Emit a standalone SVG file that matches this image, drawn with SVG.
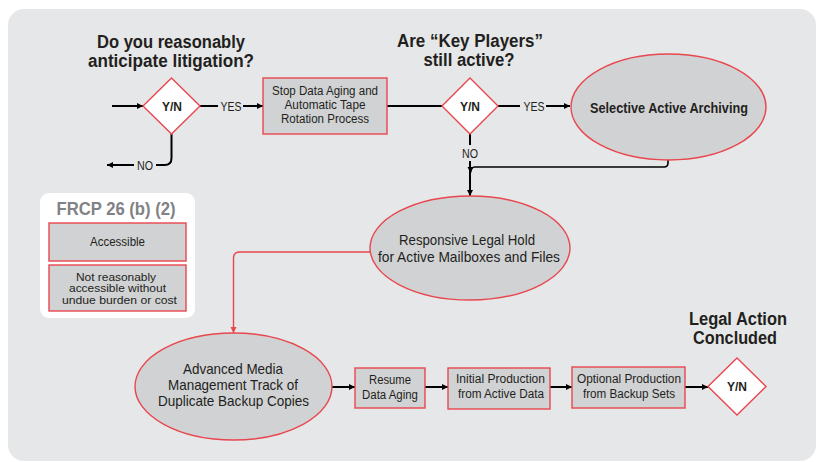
<svg xmlns="http://www.w3.org/2000/svg" width="817" height="462" viewBox="0 0 817 462">
<style>
text{font-family:"Liberation Sans",Arial,sans-serif;fill:#231f20;text-anchor:middle}
.t{font-size:17.5px;font-weight:bold}
.b{font-size:12.5px}
.e{font-size:14.5px}
.yn{font-size:12px;font-weight:bold}
.lb{font-size:12px}
.sm{font-size:11px}
.box{fill:#d1d2d4;stroke:#e8474f;stroke-width:1.4}
.dia{fill:#ffffff;stroke:#e8474f;stroke-width:1.4}
.ln{fill:none;stroke:#000;stroke-width:2}
.rl{fill:none;stroke:#e8474f;stroke-width:1.4}
</style>
<defs>
<marker id="ah" markerUnits="userSpaceOnUse" markerWidth="7" markerHeight="7" refX="6" refY="3.5" orient="auto"><path d="M0,0.5 L6,3.5 L0,6.5 z" fill="#000"/></marker>
<marker id="ahr" markerUnits="userSpaceOnUse" markerWidth="7" markerHeight="7" refX="6" refY="3.5" orient="auto"><path d="M0,0.5 L6,3.5 L0,6.5 z" fill="#e8474f"/></marker>
</defs>
<rect x="8" y="9" width="808" height="452" rx="16" fill="#e6e7e8"/>

<g id="titles">
<text class="t" x="171" y="48" textLength="148" lengthAdjust="spacingAndGlyphs">Do you reasonably</text>
<text class="t" x="171" y="67" textLength="166" lengthAdjust="spacingAndGlyphs">anticipate litigation?</text>
<text class="t" x="470" y="47" textLength="146" lengthAdjust="spacingAndGlyphs">Are “Key Players”</text>
<text class="t" x="469" y="66" textLength="91" lengthAdjust="spacingAndGlyphs">still active?</text>
<text class="t" x="738" y="325" textLength="98" lengthAdjust="spacingAndGlyphs">Legal Action</text>
<text class="t" x="735" y="344" textLength="84" lengthAdjust="spacingAndGlyphs">Concluded</text>
</g>

<g id="connectors">
<line class="ln" x1="112" y1="106" x2="143" y2="106" marker-end="url(#ah)"/>
<path class="ln" d="M171.5,134 V158 Q171.5,165 164.5,165 H156"/>
<line class="ln" x1="134" y1="165" x2="107" y2="165" marker-end="url(#ah)"/>
<line class="ln" x1="200" y1="106" x2="218" y2="106"/>
<line class="ln" x1="243" y1="106" x2="263" y2="106" marker-end="url(#ah)"/>
<line class="ln" x1="387" y1="106" x2="442" y2="106"/>
<line class="ln" x1="498" y1="106" x2="520" y2="106"/>
<line class="ln" x1="546" y1="106" x2="570" y2="106" marker-end="url(#ah)"/>
<line class="ln" x1="470" y1="134" x2="470" y2="145"/>
<line class="ln" x1="470" y1="161" x2="470" y2="196" marker-end="url(#ah)"/>
<path class="ln" d="M668,160 V163 Q668,167 664,167 H475 Q470.5,167 470.5,173" marker-end="url(#ah)" style="stroke-width:1.6"/>
<path class="rl" d="M370,252 H240 Q233.5,252 233.5,258 V333" marker-end="url(#ahr)"/>
<line class="ln" x1="332" y1="387" x2="355" y2="387" marker-end="url(#ah)"/>
<line class="ln" x1="425" y1="387" x2="448" y2="387" marker-end="url(#ah)"/>
<line class="ln" x1="550" y1="387" x2="572" y2="387" marker-end="url(#ah)"/>
<line class="ln" x1="685" y1="387" x2="708" y2="387" marker-end="url(#ah)"/>
<text class="lb" x="231" y="110.5" textLength="21" lengthAdjust="spacingAndGlyphs">YES</text>
<text class="lb" x="145" y="169.5" textLength="16" lengthAdjust="spacingAndGlyphs">NO</text>
<text class="lb" x="534" y="110.5" textLength="21" lengthAdjust="spacingAndGlyphs">YES</text>
<text class="lb" x="470" y="157.5" textLength="16" lengthAdjust="spacingAndGlyphs">NO</text>
</g>

<g id="decision1">
<path class="dia" d="M171.5,78 L200,106 L171.5,134 L143,106 z"/>
<text class="yn" x="172" y="110.5" textLength="20" lengthAdjust="spacingAndGlyphs">Y/N</text>
</g>

<g id="stop-aging">
<rect class="box" x="263" y="78" width="124" height="56"/>
<text class="b" x="325" y="95" textLength="106" lengthAdjust="spacingAndGlyphs">Stop Data Aging and</text>
<text class="b" x="325" y="109" textLength="81" lengthAdjust="spacingAndGlyphs">Automatic Tape</text>
<text class="b" x="325" y="123" textLength="88" lengthAdjust="spacingAndGlyphs">Rotation Process</text>
</g>

<g id="decision2">
<path class="dia" d="M470,78 L498,106 L470,134 L442,106 z"/>
<text class="yn" x="470" y="110.5" textLength="20" lengthAdjust="spacingAndGlyphs">Y/N</text>
</g>

<g id="selective-archiving">
<ellipse class="box" cx="668.5" cy="107" rx="97.5" ry="53"/>
<text class="e" x="669" y="113" font-weight="bold" textLength="158" lengthAdjust="spacingAndGlyphs">Selective Active Archiving</text>
</g>

<g id="legal-hold">
<ellipse class="box" cx="470" cy="248" rx="100" ry="52"/>
<text class="e" x="467" y="245" textLength="136" lengthAdjust="spacingAndGlyphs">Responsive Legal Hold</text>
<text class="e" x="469" y="262" textLength="182" lengthAdjust="spacingAndGlyphs">for Active Mailboxes and Files</text>
</g>

<g id="frcp">
<rect x="40" y="193" width="155" height="125" rx="9" fill="#ffffff"/>
<text x="116" y="215" font-size="19" font-weight="bold" style="fill:#808285" textLength="119" lengthAdjust="spacingAndGlyphs">FRCP 26 (b) (2)</text>
<rect class="box" x="49" y="223" width="137" height="38"/>
<text class="lb" x="117.5" y="245.5" textLength="55" lengthAdjust="spacingAndGlyphs">Accessible</text>
<rect class="box" x="49" y="265" width="137" height="46"/>
<text class="sm" x="116" y="280.5" textLength="80" lengthAdjust="spacingAndGlyphs">Not reasonably</text>
<text class="sm" x="117.5" y="292" textLength="97" lengthAdjust="spacingAndGlyphs">accessible without</text>
<text class="sm" x="119.5" y="303.5" textLength="115" lengthAdjust="spacingAndGlyphs">undue burden or cost</text>
</g>

<g id="advanced-media">
<ellipse class="box" cx="233.5" cy="386.5" rx="98.5" ry="53.5"/>
<text class="e" x="233" y="374" font-size="15" textLength="100" lengthAdjust="spacingAndGlyphs">Advanced Media</text>
<text class="e" x="233" y="390" font-size="15" textLength="130" lengthAdjust="spacingAndGlyphs">Management Track of</text>
<text class="e" x="233.5" y="406" font-size="15" textLength="151" lengthAdjust="spacingAndGlyphs">Duplicate Backup Copies</text>
</g>

<g id="resume-aging">
<rect class="box" x="355" y="368" width="70" height="40"/>
<text class="b" x="390" y="384" textLength="42" lengthAdjust="spacingAndGlyphs">Resume</text>
<text class="b" x="390" y="399" textLength="56" lengthAdjust="spacingAndGlyphs">Data Aging</text>
</g>

<g id="initial-production">
<rect class="box" x="448" y="368" width="102" height="41"/>
<text class="b" x="500.5" y="383" textLength="89" lengthAdjust="spacingAndGlyphs">Initial Production</text>
<text class="b" x="501" y="398" textLength="86" lengthAdjust="spacingAndGlyphs">from Active Data</text>
</g>

<g id="optional-production">
<rect class="box" x="572" y="367" width="113" height="41"/>
<text class="b" x="629" y="383" textLength="104" lengthAdjust="spacingAndGlyphs">Optional Production</text>
<text class="b" x="629" y="398" textLength="92" lengthAdjust="spacingAndGlyphs">from Backup Sets</text>
</g>

<g id="decision3">
<path class="dia" d="M737,358 L766,386.5 L737,415 L708,386.5 z"/>
<text class="yn" x="737" y="391" textLength="20" lengthAdjust="spacingAndGlyphs">Y/N</text>
</g>
</svg>
